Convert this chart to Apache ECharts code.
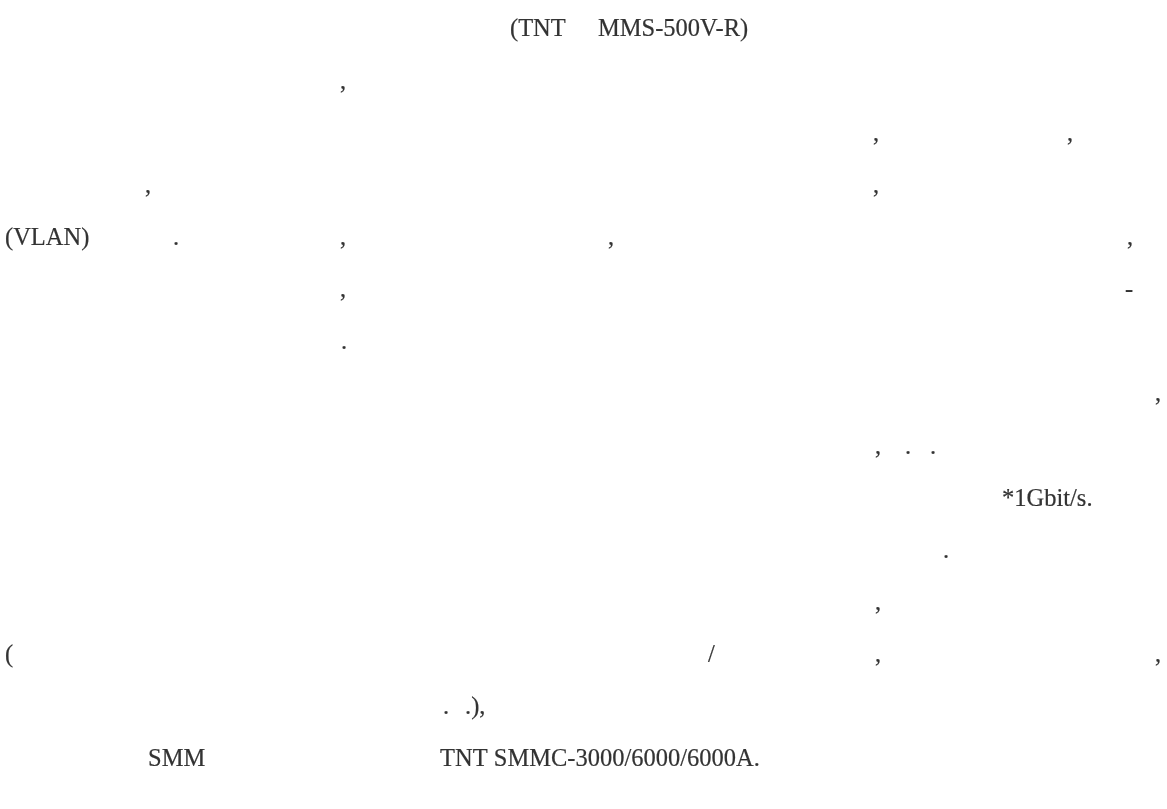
<!DOCTYPE html>
<html>
<head>
<meta charset="utf-8">
<script src="https://cdn.jsdelivr.net/npm/echarts@6/dist/echarts.min.js"></script>
<style>
html,body{margin:0;padding:0;background:#fff;}
#main{width:1167px;height:809px;}
</style>
</head>
<body>
<div id="main"></div>
<script>
// Text fragments visible on the page (Latin characters and punctuation only)
const fragmentText = [
  "(TNT", "MMS-500V-R)",
  ",",
  ",", ",",
  ",", ",",
  "(VLAN)", ".", ",", ",", ",",
  ",", "-",
  ".",
  ",",
  ",", ".", ".",
  "*1Gbit/s.",
  ".",
  ",",
  "(", "/", ",", ",",
  ".", ".),",
  "SMM", "TNT SMMC-3000/6000/6000A."
];
// Line number of each fragment (1 = first line)
const fragmentLine = [
  1, 1,
  2,
  3, 3,
  4, 4,
  5, 5, 5, 5, 5,
  6, 6,
  7,
  8,
  9, 9, 9,
  10,
  11,
  12,
  13, 13, 13, 13,
  14, 14,
  15, 15
];
// Horizontal offset of each fragment along the text line
const fragmentOffset = [
  510, 598,
  340,
  873, 1067,
  145, 873,
  5, 173, 340, 608, 1127,
  340, 1125,
  341,
  1155,
  875, 905, 930,
  1002,
  943,
  875,
  5, 708, 875, 1155,
  443, 465,
  148, 440
];

const data = fragmentText.map((t, i) => [fragmentOffset[i], fragmentLine[i], t]);

const chart = echarts.init(document.getElementById('main'), null, {renderer: 'canvas'});
chart.setOption({
  backgroundColor: '#ffffff',
  animation: false,
  grid: {left: 0, right: 0, top: 0, bottom: 0},
  xAxis: {type: 'value', min: 0, max: 1167, show: false},
  yAxis: {type: 'value', min: 0.425, max: 15.94, inverse: true, show: false},
  series: [{
    type: 'scatter',
    symbolSize: 0,
    data: data,
    label: {
      show: true,
      position: 'right',
      distance: 0,
      formatter: p => p.value[2],
      fontFamily: '"Liberation Serif", "Times New Roman", serif',
      fontSize: 24.5,
      color: '#000000',
      textBorderColor: '#000000',
      textBorderWidth: 0.2,
      align: 'left',
      verticalAlign: 'middle'
    }
  }]
});
</script>
</body>
</html>
